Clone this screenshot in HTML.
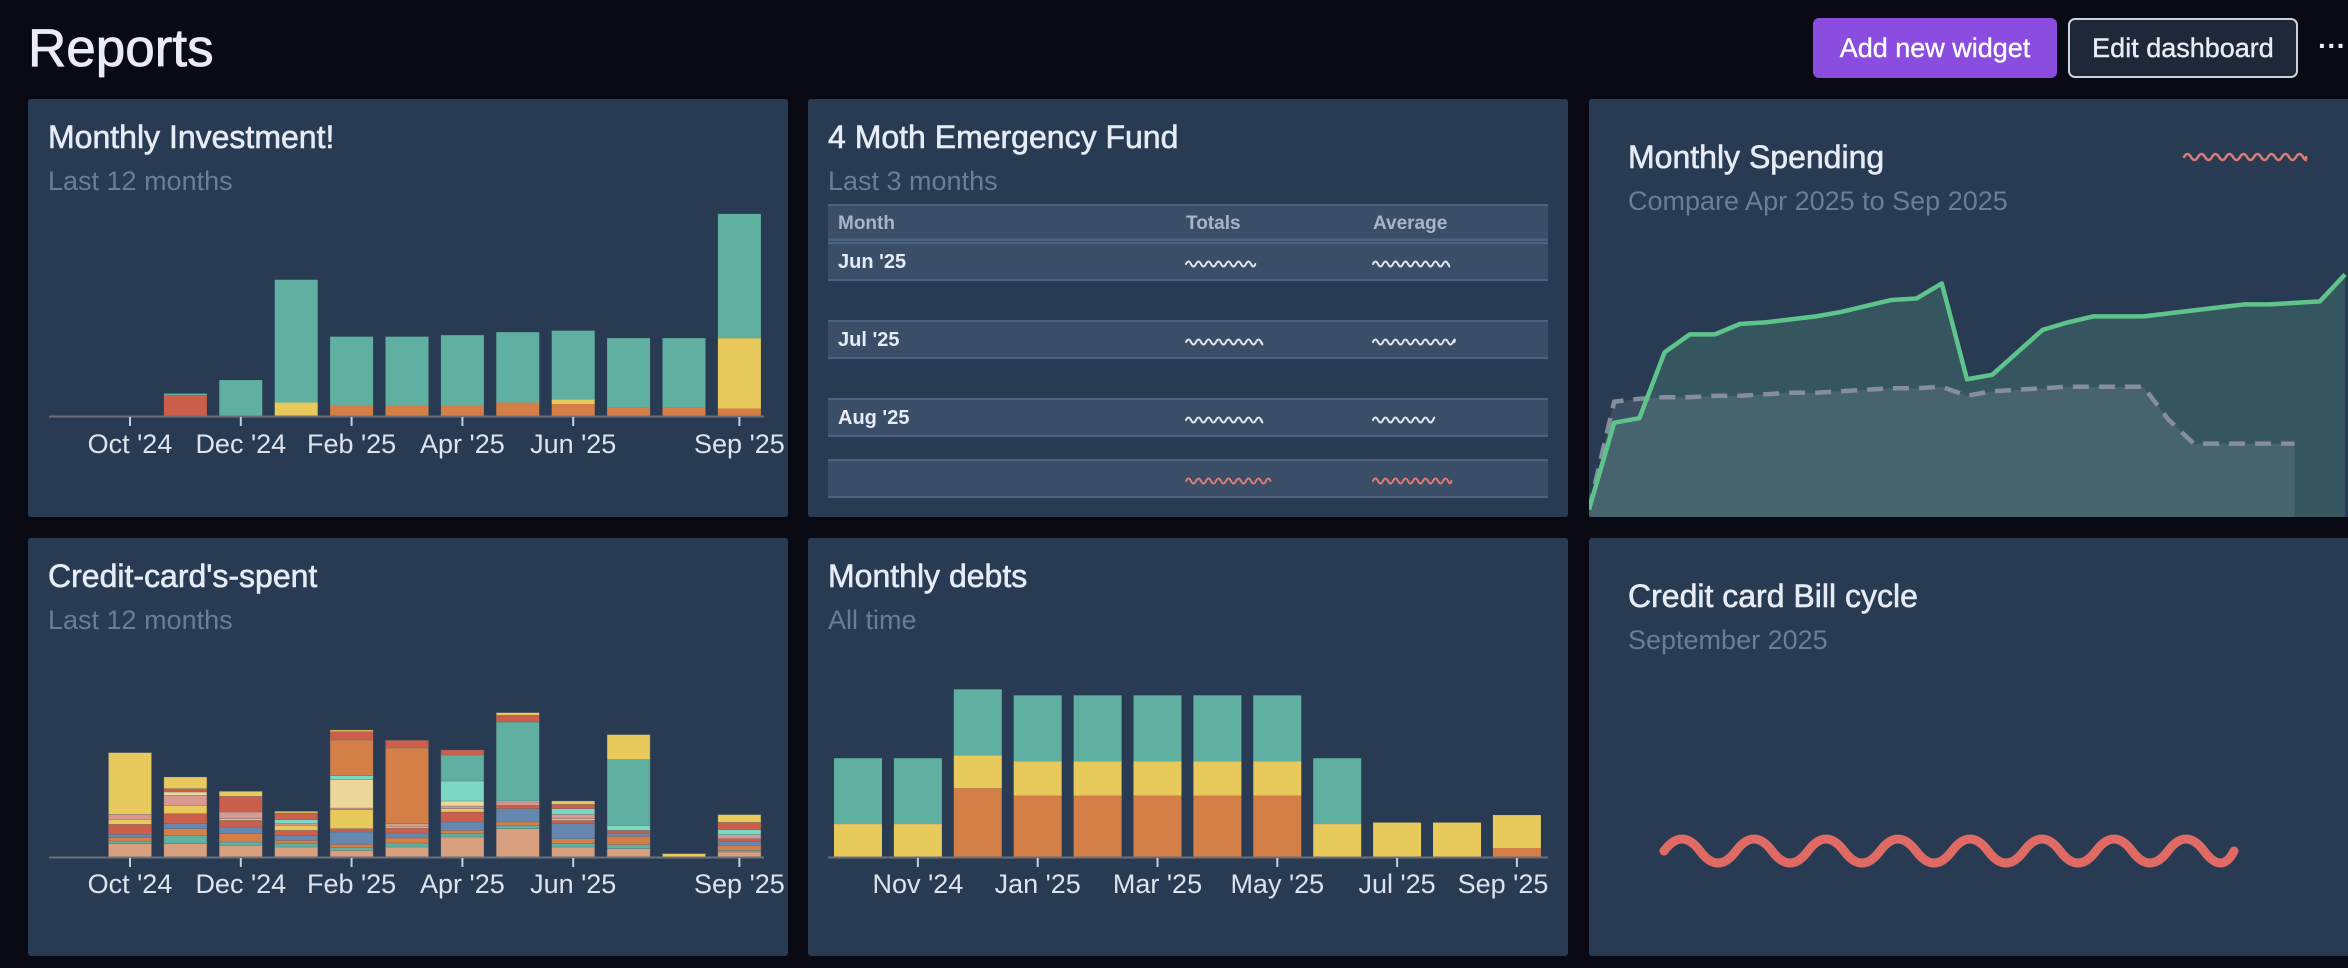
<!DOCTYPE html>
<html><head><meta charset="utf-8">
<style>
html,body{margin:0;padding:0;background:#090a13;width:2348px;height:968px;overflow:hidden;font-family:"Liberation Sans",sans-serif;}
svg{position:absolute;left:0;top:0}
</style></head>
<body>
<svg id="root" width="2348" height="968" xmlns="http://www.w3.org/2000/svg">
  <text x="28" y="66" font-size="53" fill="#e8edf5" stroke="#e8edf5" stroke-width="0.8">Reports</text>
  <g>
    <rect x="1813" y="18" width="244" height="60" rx="6" fill="#8b4ce0"/>
    <text x="1935" y="57" font-size="27" fill="#ffffff" stroke="#ffffff" stroke-width="0.4" text-anchor="middle">Add new widget</text>
  </g>
  <g>
    <rect x="2069" y="19" width="228" height="58" rx="6" fill="#1f2838" stroke="#c9d2de" stroke-width="2"/>
    <text x="2183" y="57" font-size="27" fill="#e8edf5" stroke="#e8edf5" stroke-width="0.4" text-anchor="middle">Edit dashboard</text>
  </g>
  <text x="2318" y="55" font-size="28" fill="#e8edf5" font-weight="bold">···</text>

  <g id="cards"></g>
  <g id="charts"></g>
</svg>
<script>
const NS='http://www.w3.org/2000/svg';
const root=document.getElementById('root');
const cardsG=document.getElementById('cards');
const chartsG=document.getElementById('charts');
function mk(tag,attrs,parent){const e=document.createElementNS(NS,tag);for(const k in attrs)e.setAttribute(k,attrs[k]);(parent||chartsG).appendChild(e);return e;}
function txt(x,y,s,size,fill,parent,anchor,weight){const t=mk('text',{x:x,y:y,'font-size':size,fill:fill,'text-anchor':anchor||'start','font-weight':weight||'normal'},parent);t.textContent=s;return t;}

// ---------- cards ----------
const cardTitles=['Monthly Investment!','4 Moth Emergency Fund','Monthly Spending','Credit-card\'s-spent','Monthly debts','Credit card Bill cycle'];
const cardSubs=['Last 12 months','Last 3 months','Compare Apr 2025 to Sep 2025','Last 12 months','All time','September 2025'];
const cardNames=['monthly-investment-card','emergency-fund-card','monthly-spending-card','credit-card-spent-card','monthly-debts-card','bill-cycle-card'];
const cardX=[28,808,1589,28,808,1589];
const cardY=[99,99,99,538,538,538];
for(let i=0;i<6;i++){
  const g=mk('g',{},cardsG);
  
  
  const w=i%3===2?780:760;
  mk('rect',{x:cardX[i],y:cardY[i],width:w,height:418,rx:3,fill:'#293b53'},g);
  const off=i%3===2?20:0;
  const t=txt(cardX[i]+20+(i%3===2?19:0),cardY[i]+49+off,cardTitles[i],32,'#e6ecf5',g);
  t.setAttribute('stroke','#e6ecf5');
  t.setAttribute('stroke-width','0.6');
  
  
  const s=txt(cardX[i]+20+(i%3===2?19:0),cardY[i]+91+off,cardSubs[i],27,'#6b7d97',g);
  
  
}

// ---------- Chart 1: Monthly investment ----------
const inv_months=['Oct \'24','Nov \'24','Dec \'24','Jan \'25','Feb \'25','Mar \'25','Apr \'25','May \'25','Jun \'25','Jul \'25','Aug \'25','Sep \'25'];
const inv_orange=[0,0,0,0,7,7,7,9,8,6,6,5];
const inv_red=[0,14,0,0,0,0,0,0,0,0,0,0];
const inv_yellow=[0,0,0,9,0,0,0,0,3,0,0,47];
const inv_teal=[0,1,24,82,46,46,47,47,46,46,46,83];
const inv_ticks=[0,2,4,6,8,11];
const colors={orange:'#d57f48',red:'#cc5f4c',yellow:'#e8c95c',teal:'#5fb0a0'};
function x1(i){return 130+i*55.4;}
function y1(v){return 416-v*1.497;}
(function(){
  const g=mk('g',{});
  
  
  const series=[[inv_orange,colors.orange],[inv_red,colors.red],[inv_yellow,colors.yellow],[inv_teal,colors.teal]];
  for(let i=0;i<inv_months.length;i++){
    let acc=0;
    for(const [arr,c] of series){
      if(arr[i]<=0)continue;
      const r=mk('rect',{x:x1(i)-21.5,y:y1(acc+arr[i]),width:43,height:arr[i]*1.497,fill:c},g);
      
      
      acc+=arr[i];
    }
  }
  mk('line',{x1:49,x2:764,y1:416.5,y2:416.5,stroke:'#6b6f78','stroke-width':2},g);
  for(const t of inv_ticks){
    mk('line',{x1:x1(t),x2:x1(t),y1:417,y2:426,stroke:'#c8ced8','stroke-width':2},g);
    const l=txt(x1(t),453,inv_months[t],27,'#dde3ee',g,'middle');
    
    
  }
})();

// ---------- Chart 2: Credit card spent ----------
const cc_months=inv_months;
const cc_seriesColors=['#d9a07f','#5fb0a0','#d57f48','#6688b0','#cc5f4c','#e8c95c','#d89a90','#ecd89a','#7bd8c4','#5fb0a0','#d57f48','#cc5f4c','#e8c95c'];
const cc_A=[40,40,35,30,20,30,60,85,30,25,0,15];
const cc_B=[8,25,10,10,8,12,10,10,10,12,0,5];
const cc_C=[10,20,25,10,10,15,10,10,15,25,0,15];
const cc_D=[10,15,20,15,37,15,25,40,45,10,0,12];
const cc_E=[30,30,20,15,10,15,30,10,10,8,0,8];
const cc_F=[15,25,5,15,57,5,10,0,5,0,0,0];
const cc_G=[15,30,20,5,5,8,8,10,13,0,0,12];
const cc_H=[0,10,0,0,85,0,15,0,0,0,0,0];
const cc_I=[0,0,0,12,12,0,60,5,17,15,0,15];
const cc_K=[0,0,0,0,0,0,78,235,0,197,0,0];
const cc_L=[0,0,0,0,107,227,0,0,0,0,0,0];
const cc_M=[0,10,47,20,25,23,15,20,13,0,0,22];
const cc_N=[185,35,15,5,5,0,0,8,10,75,10,23];
function y2(v){return 857-v/3;}
(function(){
  const g=mk('g',{});
  
  
  const series=[cc_A,cc_B,cc_C,cc_D,cc_E,cc_F,cc_G,cc_H,cc_I,cc_K,cc_L,cc_M,cc_N];
  for(let i=0;i<cc_months.length;i++){
    let acc=0;
    series.forEach((arr,si)=>{
      if(arr[i]<=0)return;
      const r=mk('rect',{x:x1(i)-21.5,y:y2(acc+arr[i]),width:43,height:arr[i]/3,fill:cc_seriesColors[si],stroke:'rgba(90,100,110,0.5)','stroke-width':0.6},g);
      
      
      acc+=arr[i];
    });
  }
  mk('line',{x1:49,x2:764,y1:857.5,y2:857.5,stroke:'#6b6f78','stroke-width':2},g);
  for(const t of inv_ticks){
    mk('line',{x1:x1(t),x2:x1(t),y1:858,y2:867,stroke:'#c8ced8','stroke-width':2},g);
    const l=txt(x1(t),893,cc_months[t],27,'#dde3ee',g,'middle');
    
    
  }
})();

// ---------- Chart 3: Monthly debts ----------
const debt_months=inv_months;
const debt_orange=[0,0,46,41,41,41,41,41,0,0,0,6];
const debt_yellow=[22,22,22,23,23,23,23,23,22,23,23,22];
const debt_teal=[44,44,44,44,44,44,44,44,44,0,0,0];
const debt_ticks=[1,3,5,7,9,11];
function x3(i){return 858+i*59.9;}
(function(){
  const g=mk('g',{});
  
  
  const series=[[debt_orange,colors.orange],[debt_yellow,colors.yellow],[debt_teal,colors.teal]];
  for(let i=0;i<debt_months.length;i++){
    let acc=0;
    for(const [arr,c] of series){
      if(arr[i]<=0)continue;
      const r=mk('rect',{x:x3(i)-24,y:857-(acc+arr[i])*1.497,width:48,height:arr[i]*1.497,fill:c},g);
      
      
      acc+=arr[i];
    }
  }
  mk('line',{x1:828,x2:1548,y1:857.5,y2:857.5,stroke:'#6b6f78','stroke-width':2},g);
  for(const t of debt_ticks){
    mk('line',{x1:x3(t),x2:x3(t),y1:858,y2:867,stroke:'#c8ced8','stroke-width':2},g);
    const l=txt(Math.min(x3(t),1503),893,debt_months[t],27,'#dde3ee',g,'middle');
    
    
  }
})();

// ---------- Chart 4: Monthly spending ----------
const spend_current=[5,63,66,110,122,122,129,130,132,134,137,141,145,146,156,92,95,110,125,130,134,134,134,136,138,140,142,142,143,144,162];
const spend_previous=[5,77,79,80,80,81,81,82,83,83,84,85,86,86,87,81,84,85,86,87,87,87,87,65,49,49,49,49,49];
function x4(i){return 1589+i*25.2;}
function y4(v){return 517-v*1.497;}
(function(){
  const clip=mk('clipPath',{id:'c4'});
  mk('rect',{x:1589,y:99,width:760,height:418},clip);
  const g=mk('g',{'clip-path':'url(#c4)'});
  
  
  let pa='M'+x4(0)+',517',pl='';
  spend_previous.forEach((v,i)=>{pa+=' L'+x4(i)+','+y4(v);pl+=(i?' L':'M')+x4(i)+','+y4(v);});
  pa+=' L'+x4(spend_previous.length-1)+',517 Z';
  let ca='M'+x4(0)+',517',cl='';
  spend_current.forEach((v,i)=>{ca+=' L'+x4(i)+','+y4(v);cl+=(i?' L':'M')+x4(i)+','+y4(v);});
  ca+=' L'+x4(spend_current.length-1)+',517 Z';
  const a1=mk('path',{d:ca,fill:'#5fb08e','fill-opacity':0.22},g);
  
  
  const a2=mk('path',{d:pa,fill:'#8a99aa','fill-opacity':0.2},g);
  
  
  const l2=mk('path',{d:pl,fill:'none',stroke:'#858e9c','stroke-width':4.5,'stroke-dasharray':'16 10'},g);
  
  
  const l1=mk('path',{d:cl,fill:'none',stroke:'#5fc48c','stroke-width':4.5,'stroke-linejoin':'round'},g);
  
  
})();

// ---------- squiggles ----------
function squiggle(x0,x1_,y,amp,period,color,w,name){
  let d='M'+x0+','+y;let up=true;
  for(let x=x0;x<x1_;x+=period){
    const nx=Math.min(x+period,x1_);
    d+=' Q'+(x+period/2)+','+(y+(up?-amp*2:amp*2))+' '+nx+','+y;up=!up;
  }
  const p=mk('path',{d:d,fill:'none',stroke:color,'stroke-width':w,'stroke-linecap':'round'});
  
  
}
squiggle(2184,2306,157,3,7,'#e07a74',2.5,'spending-legend-value');
squiggle(1664,2234,851,12,36,'#e06a64',9,'bill-cycle-value');

// ---------- Table ----------
const tbl_months=['Jun \'25','Jul \'25','Aug \'25',''];
const tbl_totalsW=[78,86,86,98];
const tbl_avgW=[86,94,66,90];
const tbl_rowY=[242,320,398,459];
(function(){
  const g=mk('g',{});
  
  
  mk('rect',{x:828,y:204,width:720,height:37,fill:'#3a4e68'},g);
  mk('line',{x1:828,x2:1548,y1:205,y2:205,stroke:'#4b6283','stroke-width':2},g);
  mk('line',{x1:828,x2:1548,y1:240,y2:240,stroke:'#4b6283','stroke-width':3},g);
  txt(838,229,'Month',19,'#a9b5c7',g,'start','bold');
  txt(1186,229,'Totals',19,'#a9b5c7',g,'start','bold');
  txt(1373,229,'Average',19,'#a9b5c7',g,'start','bold');
  for(let i=0;i<4;i++){
    const y=tbl_rowY[i];
    const r=mk('rect',{x:828,y:y,width:720,height:38,fill:'#3a4e68'},g);
    
    
    mk('line',{x1:828,x2:1548,y1:y+1,y2:y+1,stroke:'#4b6283','stroke-width':2},g);
    mk('line',{x1:828,x2:1548,y1:y+38,y2:y+38,stroke:'#4b6283','stroke-width':2},g);
    if(tbl_months[i])txt(838,y+26,tbl_months[i],20,'#e6ecf5',g,'start','bold');
    const c=i===3?'#e07a74':'#dfe5ee';
    squiggle(1186,1186+tbl_totalsW[i]*0.76+10,y+22,2.5,5,c,2,'totals-value');
    squiggle(1373,1373+tbl_avgW[i]*0.76+10,y+22,2.5,5,c,2,'average-value');
  }
})();
</script>
</body></html>
